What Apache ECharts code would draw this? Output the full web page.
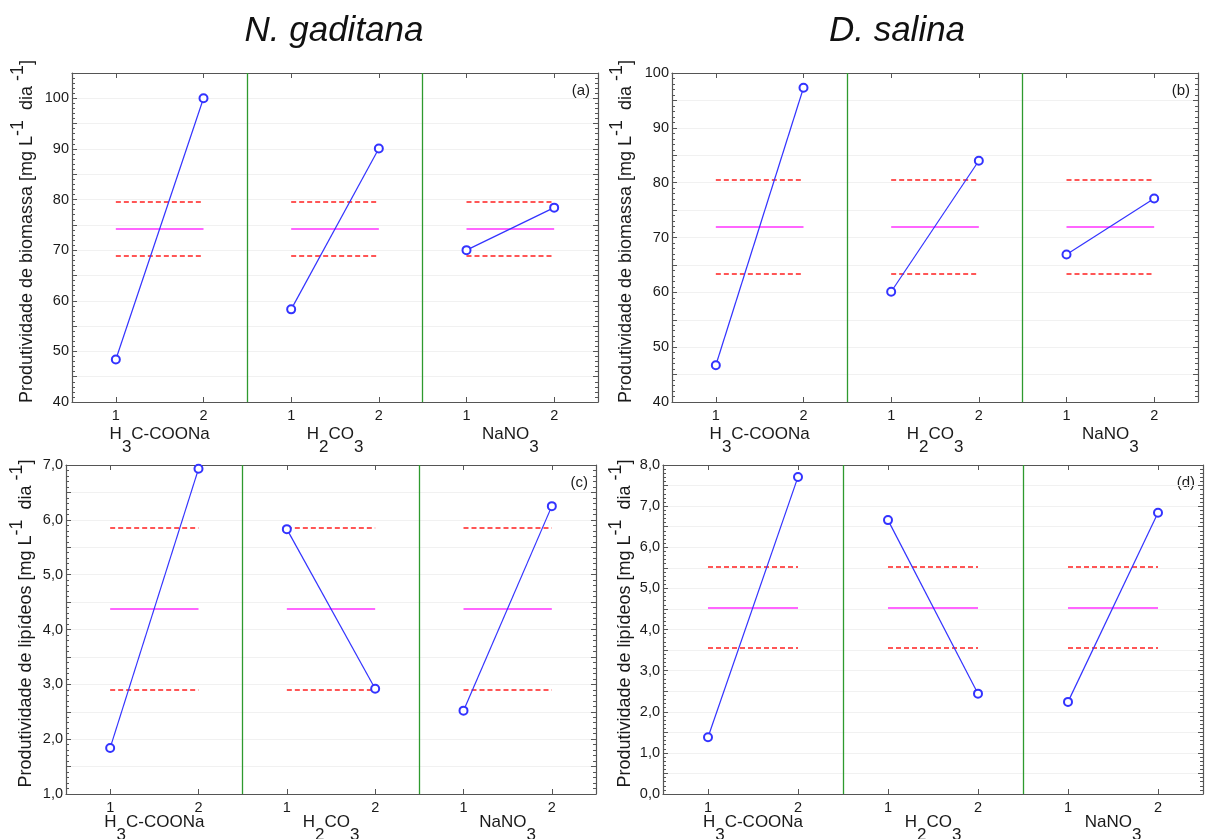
<!DOCTYPE html>
<html>
<head>
<meta charset="utf-8">
<script src="https://cdn.jsdelivr.net/npm/echarts@6/dist/echarts.min.js"></script>
<style>
html, body { margin: 0; background: #fff; }
#main { width: 1206px; height: 839px; }
</style>
</head>
<body>
<div id="main"></div>
<script>
// niveis e fatores
var levels = ['1', '2'];
var factors = ['H3C-COONa', 'H2CO3', 'NaNO3'];
var factorRich = ['{m|H}{s|3}{m|C-COONa}', '{m|H}{s|2}{m|CO}{s|3}', '{m|NaNO}{s|3}'];

// medias nos niveis 1 e 2 de cada fator
var biomassaNG = [[48.4, 100.0], [58.3, 90.1], [70.0, 78.4]];
var biomassaDS = [[46.7, 97.3], [60.1, 84.0], [66.9, 77.1]];
var lipideosNG = [[1.84, 6.93], [5.83, 2.92], [2.52, 6.25]];
var lipideosDS = [[1.38, 7.71], [6.66, 2.44], [2.24, 6.84]];

// limite inferior, media geral, limite superior
var refBiomassaNG = [68.9, 74.2, 79.5];
var refBiomassaDS = [63.3, 72.0, 80.6];
var refLipideosNG = [2.90, 4.38, 5.86];
var refLipideosDS = [3.56, 4.54, 5.52];

// eixos y: min, max, passo
var yMin = [40, 40, 1, 0];
var yMax = [105, 100, 7, 8];
var yStep = [5, 5, 0.5, 0.5];
var yLabelStep = [10, 10, 1, 1];

var panelLetters = ['(a)', '(b)', '(c)', '(d)'];
var yNames = [
  '{m|Produtividade de biomassa [mg L}{p|-1}{m|  dia }{p|-1}{m|]}',
  '{m|Produtividade de biomassa [mg L}{p|-1}{m|  dia }{p|-1}{m|]}',
  '{m|Produtividade de lipídeos [mg L}{p|-1}{m|  dia }{p|-1}{m|]}',
  '{m|Produtividade de lipídeos [mg L}{p|-1}{m|  dia }{p|-1}{m|]}'
];

var panelValues = [biomassaNG, biomassaDS, lipideosNG, lipideosDS];
var panelRefs = [refBiomassaNG, refBiomassaDS, refLipideosNG, refLipideosDS];

var grids = [
  {left: 72, top: 73, width: 526, height: 329, outerBoundsMode: 'none'},
  {left: 672, top: 73, width: 526, height: 329, outerBoundsMode: 'none'},
  {left: 66, top: 465, width: 530, height: 329, outerBoundsMode: 'none'},
  {left: 663, top: 465, width: 540, height: 329, outerBoundsMode: 'none'}
];
var nameGaps = [36, 37, 31, 29];
var factorOffsets = [19, 19, 15, 15];

var FONT = '"Liberation Sans", Arial, sans-serif';
var AXIS_COLOR = '#555';
var TXT = '#1a1a1a';
var BLUE = '#3333ff';
var MAGENTA = '#ff33ff';
var RED = '#ff1f1f';
var GREEN = '#2e9a2e';

var tickPos = [1, 2, 3, 4, 5, 6];

var xAxes = [];
var yAxes = [];
var series = [];
var graphics = [];

for (var p = 0; p < 4; p++) {
  (function (p) {
    var lblStep = yLabelStep[p];
    // eixo x inferior (niveis)
    xAxes.push({
      type: 'value', gridIndex: p, position: 'bottom',
      min: 0.5, max: 6.5,
      axisLine: {show: true, onZero: false, lineStyle: {color: AXIS_COLOR, width: 1.2}},
      axisTick: {show: true, inside: true, length: 5, customValues: tickPos, lineStyle: {color: AXIS_COLOR}},
      axisLabel: {
        show: true, customValues: tickPos, margin: 6,
        fontFamily: FONT, fontSize: 14.5, color: TXT,
        formatter: function (v) { return levels[(Math.round(v) - 1) % 2]; }
      },
      splitLine: {show: false}
    });
    // eixo x superior (moldura)
    xAxes.push({
      type: 'value', gridIndex: p, position: 'top',
      min: 0.5, max: 6.5,
      axisLine: {show: true, onZero: false, lineStyle: {color: AXIS_COLOR, width: 1.2}},
      axisTick: {show: true, inside: true, length: 5, customValues: tickPos, lineStyle: {color: AXIS_COLOR}},
      axisLabel: {show: false},
      splitLine: {show: false}
    });
    // nomes dos fatores (com subscrito)
    xAxes.push({
      type: 'value', gridIndex: p, position: 'bottom', offset: factorOffsets[p],
      min: 0.5, max: 6.5,
      axisLine: {show: false}, axisTick: {show: false}, splitLine: {show: false},
      axisLabel: {
        show: true, customValues: [1.5, 3.5, 5.5], margin: 5,
        fontFamily: FONT, fontSize: 17, color: TXT,
        formatter: function (v) { return factorRich[Math.round((v - 1.5) / 2)]; },
        rich: {
          m: {fontFamily: FONT, fontSize: 17, color: TXT, lineHeight: 30, verticalAlign: 'top'},
          s: {fontFamily: FONT, fontSize: 17, color: TXT, verticalAlign: 'bottom'}
        }
      }
    });

    yAxes.push({
      type: 'value', gridIndex: p, position: 'left',
      min: yMin[p], max: yMax[p], interval: yStep[p],
      name: yNames[p], nameLocation: 'middle', nameRotate: 90, nameGap: nameGaps[p],
      nameTextStyle: {
        padding: [0, 0, 0, 12],
        rich: {
          m: {fontFamily: FONT, fontSize: 18, color: TXT, lineHeight: 27, verticalAlign: 'bottom'},
          p: {fontFamily: FONT, fontSize: 18, color: TXT, verticalAlign: 'top'}
        }
      },
      axisLine: {show: true, onZero: false, lineStyle: {color: AXIS_COLOR, width: 1.2}},
      axisTick: {show: true, inside: true, length: 5, lineStyle: {color: AXIS_COLOR}},
      minorTick: {show: true, splitNumber: 5, length: 3, lineStyle: {color: AXIS_COLOR}},
      axisLabel: {
        margin: 3, fontFamily: FONT, fontSize: 14.5, color: TXT,
        formatter: function (v) {
          var r = v / lblStep;
          if (Math.abs(r - Math.round(r)) > 1e-6) return '';
          return lblStep < 5 ? v.toFixed(1).replace('.', ',') : String(v);
        }
      },
      splitLine: {show: true, lineStyle: {color: '#f1f1f1', width: 1}}
    });
    yAxes.push({
      type: 'value', gridIndex: p, position: 'right',
      min: yMin[p], max: yMax[p], interval: yStep[p],
      axisLine: {show: true, onZero: false, lineStyle: {color: AXIS_COLOR, width: 1.2}},
      axisTick: {show: true, inside: true, length: 5, lineStyle: {color: AXIS_COLOR}},
      minorTick: {show: true, splitNumber: 5, length: 3, lineStyle: {color: AXIS_COLOR}},
      axisLabel: {show: false},
      splitLine: {show: false}
    });

    var vals = panelValues[p];
    var ref = panelRefs[p];
    for (var s = 0; s < factors.length; s++) {
      var item = {
        type: 'line', name: factors[s],
        xAxisIndex: p * 3, yAxisIndex: p * 2,
        data: [[s * 2 + 1, vals[s][0]], [s * 2 + 2, vals[s][1]]],
        symbol: 'emptyCircle', symbolSize: 8,
        lineStyle: {color: BLUE, width: 1.2},
        itemStyle: {color: BLUE, borderColor: BLUE, borderWidth: 1.2},
        z: 5, silent: true
      };
      var ml = [];
      var a = s * 2 + 1, b = s * 2 + 2;
      ml.push([{coord: [a, ref[0]], lineStyle: {color: RED, type: [5, 3], width: 1.6}}, {coord: [b, ref[0]]}]);
      ml.push([{coord: [a, ref[1]], lineStyle: {color: MAGENTA, type: 'solid', width: 1.5}}, {coord: [b, ref[1]]}]);
      ml.push([{coord: [a, ref[2]], lineStyle: {color: RED, type: [5, 3], width: 1.6}}, {coord: [b, ref[2]]}]);
      if (s < 2) {
        ml.push({xAxis: s * 2 + 2.5, lineStyle: {color: GREEN, type: 'solid', width: 1.3}});
      }
      item.markLine = {silent: true, symbol: ['none', 'none'], label: {show: false}, data: ml, animation: false};
      series.push(item);
    }

    var g = grids[p];
    graphics.push({
      type: 'text', x: g.left + g.width - 8, y: g.top + 10,
      style: {text: panelLetters[p], font: '15px ' + FONT, fill: TXT, align: 'right', verticalAlign: 'top'}
    });
  })(p);
}

graphics.push({
  type: 'text', x: 334, y: 14,
  style: {text: 'N. gaditana', font: 'italic 35px ' + FONT, fill: '#111', align: 'center', verticalAlign: 'top'}
});
graphics.push({
  type: 'text', x: 897, y: 14,
  style: {text: 'D. salina', font: 'italic 35px ' + FONT, fill: '#111', align: 'center', verticalAlign: 'top'}
});

var myChart = echarts.init(document.getElementById('main'));
var option = {
  backgroundColor: '#fff',
  animation: false,
  grid: grids,
  xAxis: xAxes,
  yAxis: yAxes,
  series: series,
  graphic: graphics
};
myChart.setOption(option, true);
</script>
</body>
</html>
